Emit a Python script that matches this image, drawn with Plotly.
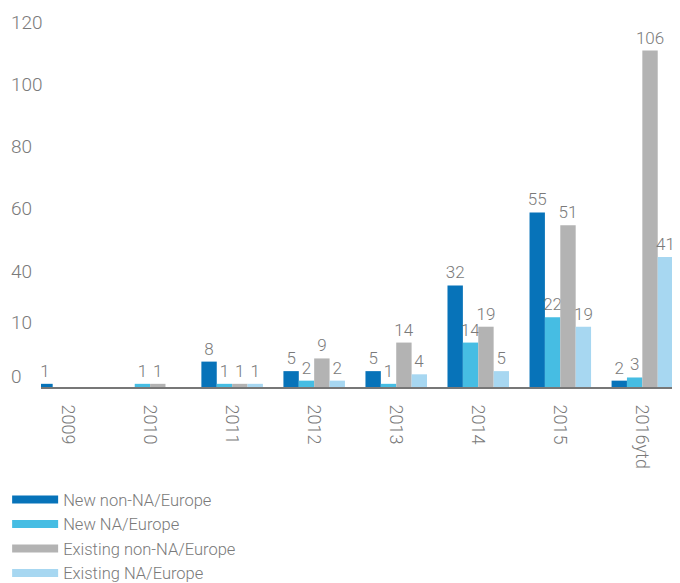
import plotly.graph_objects as go

years = ["2009", "2010", "2011", "2012", "2013", "2014", "2015", "2016ytd"]
new_non_na = [1, 0, 8, 5, 5, 32, 55, 2]
new_na = [0, 1, 1, 2, 1, 14, 22, 3]
existing_non_na = [0, 1, 1, 9, 14, 19, 51, 106]
existing_na = [0, 0, 1, 2, 4, 5, 19, 41]

# y labels in the source sit at odd spots (not on the bar scale), so place them as drawn
y_tick_text = ["0", "10", "40", "60", "80", "100", "120"]
y_tick_vals = [3.2, 20.2, 36.3, 56.1, 75.7, 95.2, 114.8]

series = [
    ("New non-NA/Europe", new_non_na, "#0773b9"),
    ("New NA/Europe", new_na, "#46bde3"),
    ("Existing non-NA/Europe", existing_non_na, "#b3b3b3"),
    ("Existing NA/Europe", existing_na, "#a7d7f1"),
]

FONT = "Roboto"
GREY = "#7a7a7a"

fig = go.Figure()
for name, vals, color in series:
    fig.add_trace(go.Bar(
        x=years, y=vals, name=name, marker_color=color, marker_line_width=0,
        text=[str(v) if v else "" for v in vals], textposition="outside",
        constraintext="none", cliponaxis=False,
        textfont=dict(family=FONT, size=17, color=GREY, weight=300),
        showlegend=False,
    ))
    # wide swatch for the legend
    fig.add_trace(go.Scatter(
        x=[None], y=[None], mode="lines", name=name,
        line=dict(color=color, width=8),
    ))

for label, val in zip(y_tick_text, y_tick_vals):
    fig.add_annotation(
        x=0, xref="paper", y=val, yref="y", text=label, showarrow=False,
        xanchor="left", xshift=-32, font=dict(family=FONT, size=19, color=GREY, weight=300),
    )

# page body adds an 8px offset, so the plot box is shifted up/left to compensate
fig.update_layout(
    width=680, height=583,
    margin=dict(l=33, r=14, t=2, b=204, autoexpand=False),
    plot_bgcolor="white", paper_bgcolor="white",
    barmode="group", bargap=0.25, bargroupgap=0,
    font=dict(family=FONT, size=17, color=GREY, weight=300),
    legend=dict(
        x=-0.0535, xanchor="left", y=-0.253, yanchor="top",
        itemwidth=46, tracegroupgap=0, maxheight=200,
        font=dict(family=FONT, size=16.5, color=GREY, weight=300),
    ),
)
fig.update_xaxes(
    range=[-0.33, 7.386], tickangle=90, showline=True, linecolor="#777777", linewidth=2,
    showgrid=False, ticks="", ticklabelstandoff=12,
    tickfont=dict(family=FONT, size=18, color=GREY, weight=300),
)
fig.update_yaxes(range=[0, 118.8], showticklabels=False, showgrid=False, zeroline=False)

fig.write_html("out.html")
